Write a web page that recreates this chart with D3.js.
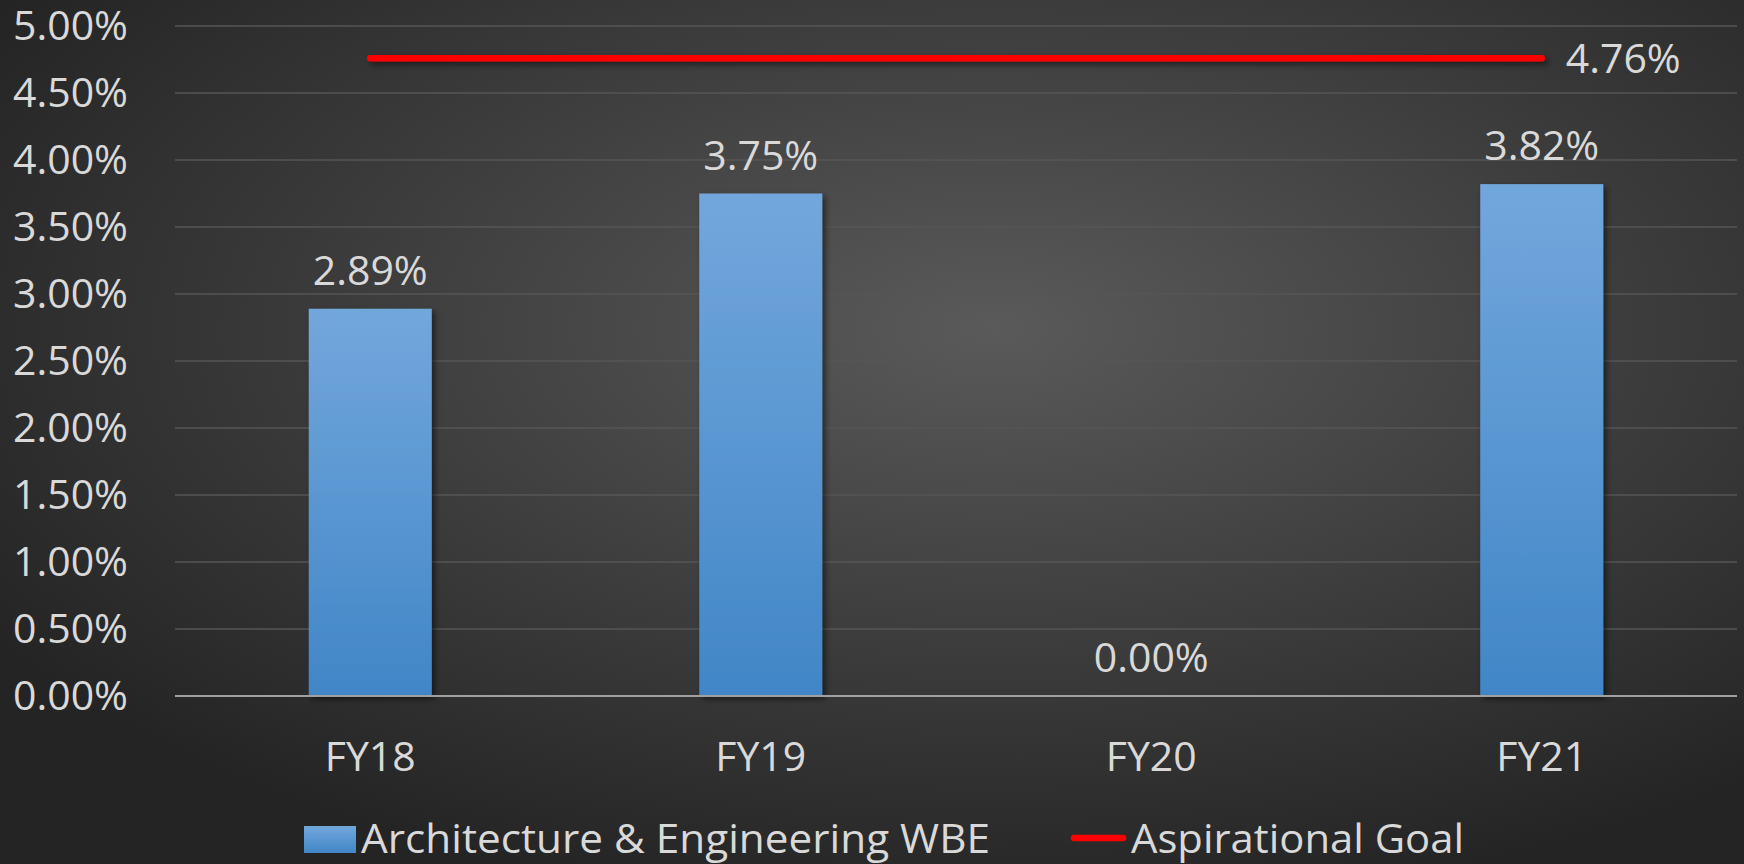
<!DOCTYPE html>
<html>
<head>
<meta charset="utf-8">
<script src="https://cdn.jsdelivr.net/npm/d3@7"></script>
<style>
  body { margin: 0; background: #2b2b2b; }
  svg { display: block; }
  text { font-family: "Open Sans", sans-serif; fill: #d9d9d9; }
</style>
</head>
<body>
<svg id="chart"></svg>
<script>
// data
const categories = ["FY18", "FY19", "FY20", "FY21"];
const wbeValues = [2.89, 3.75, 0.00, 3.82];
const goalValues = [4.76, 4.76, 4.76, 4.76];
const yTicks = [0, 0.5, 1, 1.5, 2, 2.5, 3, 3.5, 4, 4.5, 5];
const seriesNames = ["Architecture & Engineering WBE", "Aspirational Goal"];

const W = 1744, H = 864;
var margin = {top: 26, right: 7, bottom: 168, left: 175},
    width = W - margin.left - margin.right,
    height = H - margin.top - margin.bottom;

const svg = d3.select("#chart").attr("width", W).attr("height", H);
const defs = svg.append("defs");

// background glow
const bg = defs.append("radialGradient").attr("id", "bg")
  .attr("cx", "57%").attr("cy", "38%").attr("r", "68%");
bg.append("stop").attr("offset", "0%").attr("stop-color", "#5a5a5a");
bg.append("stop").attr("offset", "55%").attr("stop-color", "#3c3c3c");
bg.append("stop").attr("offset", "100%").attr("stop-color", "#242424");

const barGrad = defs.append("linearGradient").attr("id", "barGrad")
  .attr("x1", 0).attr("y1", 0).attr("x2", 0).attr("y2", 1);
barGrad.append("stop").attr("offset", "0%").attr("stop-color", "#72a7dc");
barGrad.append("stop").attr("offset", "100%").attr("stop-color", "#4186c7");

// shadow in user space so the flat goal line keeps a visible filter region
const shadow = defs.append("filter").attr("id", "shadow")
  .attr("filterUnits", "userSpaceOnUse")
  .attr("x", -50).attr("y", -50).attr("width", W + 100).attr("height", H + 100);
shadow.append("feDropShadow").attr("dx", 3).attr("dy", 3).attr("stdDeviation", 3)
  .attr("flood-color", "#000").attr("flood-opacity", 0.55);

svg.append("rect").attr("width", W).attr("height", H).attr("fill", "url(#bg)");

const g = svg.append("g").attr("transform", "translate(" + margin.left + "," + margin.top + ")");

const x = d3.scaleBand().domain(categories).range([0, width]).padding(0);
const y = d3.scaleLinear().domain([0, 5]).range([height, 0]);
const barW = x.bandwidth() * 0.315;

// gridlines
g.append("g")
  .selectAll("line")
  .data(yTicks.filter(d => d > 0))
  .enter()
  .append("line")
  .attr("x1", 0).attr("x2", width)
  .attr("y1", d => y(d)).attr("y2", d => y(d))
  .attr("stroke", "#565656").attr("stroke-width", 1.5);

// y axis labels
const yAxis = g.append("g")
  .call(d3.axisLeft(y).tickValues(yTicks).tickFormat(d => d.toFixed(2) + "%").tickSize(0).tickPadding(47));
yAxis.select(".domain").remove();
yAxis.selectAll("text")
  .attr("font-size", 41)
  .attr("fill", "#d9d9d9")
  .style("font-family", "'Open Sans', sans-serif");

// bars
g.append("g")
  .selectAll("rect")
  .data(wbeValues)
  .enter()
  .append("rect")
  .attr("x", (d, i) => x(categories[i]) + x.bandwidth() / 2 - barW / 2)
  .attr("y", d => y(d))
  .attr("width", barW)
  .attr("height", d => height - y(d))
  .attr("fill", "url(#barGrad)")
  .attr("filter", d => d > 0 ? "url(#shadow)" : null);

// zero axis line
g.append("line")
  .attr("x1", 0).attr("x2", width)
  .attr("y1", y(0)).attr("y2", y(0))
  .attr("stroke", "#a0a0a0").attr("stroke-width", 2);

// value labels
g.append("g")
  .selectAll("text")
  .data(wbeValues)
  .enter()
  .append("text")
  .attr("x", (d, i) => x(categories[i]) + x.bandwidth() / 2)
  .attr("y", d => y(d) - 24)
  .attr("text-anchor", "middle")
  .attr("font-size", 41)
  .text(d => d.toFixed(2) + "%");

// x axis labels
const xAxis = g.append("g")
  .attr("transform", "translate(0," + height + ")")
  .call(d3.axisBottom(x).tickSize(0).tickPadding(46));
xAxis.select(".domain").remove();
xAxis.selectAll("text")
  .attr("font-size", 41)
  .attr("fill", "#d9d9d9")
  .style("font-family", "'Open Sans', sans-serif");

// goal line
const line = d3.line()
  .x((d, i) => x(categories[i]) + x.bandwidth() / 2)
  .y(d => y(d));
g.append("path")
  .datum(goalValues)
  .attr("d", line)
  .attr("fill", "none")
  .attr("stroke", "#ff0000")
  .attr("stroke-width", 6.5)
  .attr("stroke-linecap", "round")
  .attr("filter", "url(#shadow)");

const last = goalValues.length - 1;
g.append("text")
  .attr("x", x(categories[last]) + x.bandwidth() / 2 + 24)
  .attr("y", y(goalValues[last]))
  .attr("dy", "0.36em")
  .attr("font-size", 41)
  .text(goalValues[last].toFixed(2) + "%");

// legend
const legend = svg.append("g");
legend.append("rect")
  .attr("x", 304).attr("y", 826).attr("width", 52).attr("height", 27)
  .attr("fill", "url(#barGrad)");
legend.append("text")
  .attr("x", 361).attr("y", 853)
  .attr("font-size", 41)
  .attr("textLength", 629).attr("lengthAdjust", "spacingAndGlyphs")
  .text(seriesNames[0]);
legend.append("line")
  .attr("x1", 1074).attr("x2", 1123).attr("y1", 838).attr("y2", 838)
  .attr("stroke", "#ff0000").attr("stroke-width", 6.5).attr("stroke-linecap", "round");
legend.append("text")
  .attr("x", 1131).attr("y", 853)
  .attr("font-size", 41)
  .attr("textLength", 333).attr("lengthAdjust", "spacingAndGlyphs")
  .text(seriesNames[1]);
</script>
</body>
</html>
